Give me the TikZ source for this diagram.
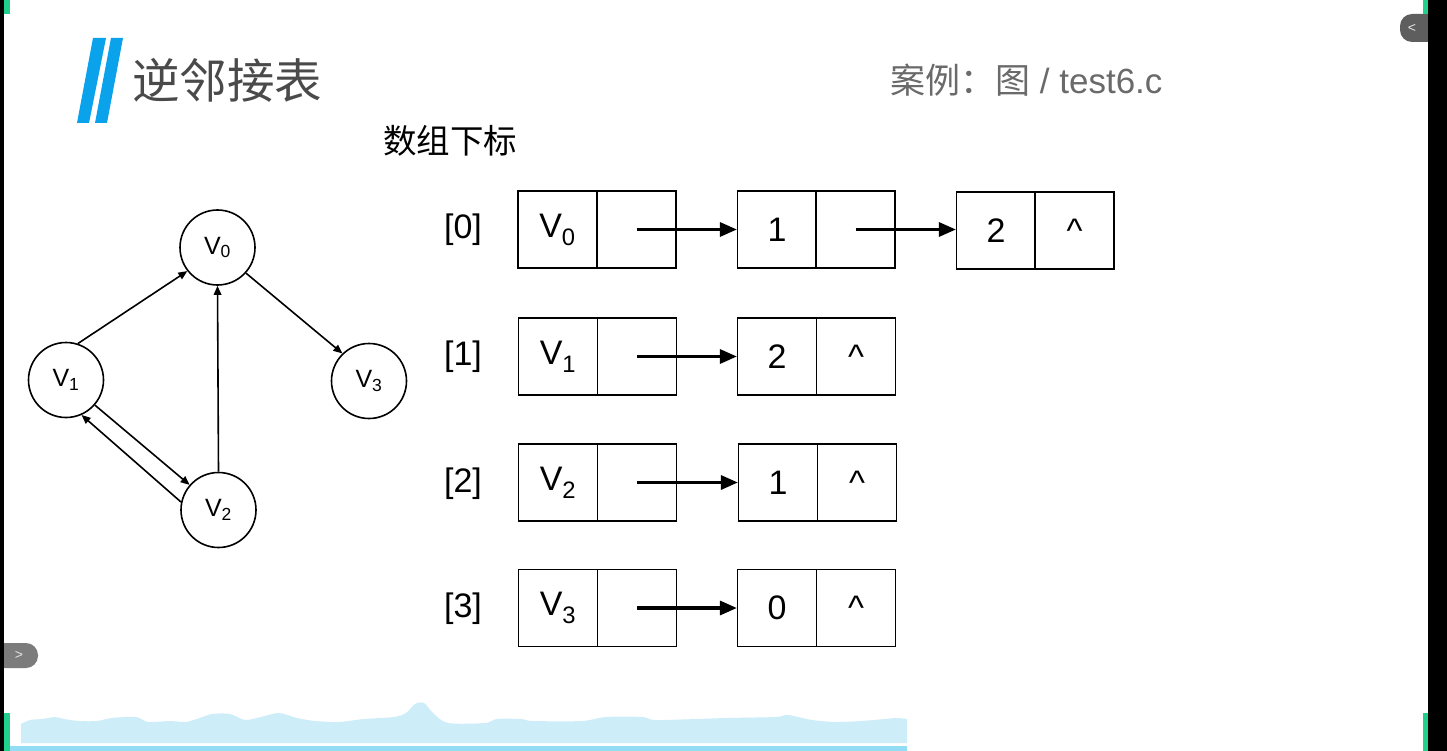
\documentclass[tikz,border=0pt]{standalone}
\usepackage{fontspec}
\setmainfont{Liberation Sans}
\newfontfamily\cjk{Noto Sans CJK SC}
\usetikzlibrary{arrows.meta}
\definecolor{barblue}{HTML}{0AA2EA}
\definecolor{titlegray}{HTML}{4A4A4A}
\definecolor{headgray}{HTML}{6A6A6A}
\definecolor{markgreen}{HTML}{22D08E}
\definecolor{wavefill}{HTML}{CDEDF9}
\definecolor{wavebar}{HTML}{92DDF3}
\definecolor{tabgray}{HTML}{5E5E5E}
\definecolor{tabgrayl}{HTML}{7C7C7C}
\tikzset{
  vnode/.style={circle, draw, line width=1.6pt, minimum size=75pt, inner sep=0pt, font=\fontsize{25}{25}\selectfont},
  garrow/.style={line width=1.6pt, -{Triangle[length=9pt,width=7.5pt]}},
  cellbox/.style={rectangle, draw, line width=1.2pt, minimum width=79pt, minimum height=77pt, inner sep=0pt, font=\fontsize{34}{34}\selectfont},
  idxlabel/.style={inner sep=0pt, font=\fontsize{34}{34}\selectfont},
  listarrow/.style={line width=3.2pt, -{Triangle[length=17pt,width=14pt]}},
}
\newcommand{\caretsym}{\vphantom{1}\textasciicircum}
\begin{document}
\begin{tikzpicture}[x=1pt,y=-1pt]
\useasboundingbox (0,0) rectangle (1447,751);
\fill[white] (0,0) rectangle (1447,751);
% bottom waveform
\fill[wavefill] plot[smooth, tension=0.5] coordinates {(21,724) (30,720) (42,719) (55,717) (64,719) (79,721) (97,721) (112,718) (136,717) (148,722) (170,721) (185,722) (197,719) (212,714) (230,714) (245,720) (261,717) (279,713) (297,718) (315,721) (339,722) (364,719) (394,717) (406,713) (415,704) (424,703) (433,713) (448,723) (485,723) (497,719) (521,719) (533,721) (582,721) (606,717) (642,717) (655,720) (697,719) (727,718) (776,717) (788,715) (812,720) (836,722) (861,721) (885,719) (897,718) (907,719)} -- (907,743) -- (21,743) -- cycle;
\fill[wavebar] (4,746) rectangle (907,751);
% tabs
\fill[tabgray, rounded corners=12pt] (1400,14) rectangle (1445,42);
\node[text=white!80!gray, font=\fontsize{14}{14}\selectfont, inner sep=0pt] (tabr) at (1412,28) {<};
\fill[tabgrayl, rounded corners=12pt] (-20,643) rectangle (38,668);
\node[text=white!80!gray, font=\fontsize{14}{14}\selectfont, inner sep=0pt] (tabl) at (19,655) {>};
% black side strips
\fill[black] (0,0) rectangle (4,751);
\fill[black] (1428,0) rectangle (1447,751);
% green marks
\fill[markgreen] (4,0) rectangle (10,14);
\fill[markgreen] (1423,0) rectangle (1428,14);
\fill[markgreen] (4,713) rectangle (10,751);
\fill[markgreen] (1423,713) rectangle (1428,751);
% title
\fill[barblue] (93,38) -- (106,38) -- (89,123) -- (77,123) -- cycle;
\fill[barblue] (111,38) -- (123,38) -- (107,123) -- (95,123) -- cycle;
\node[anchor=west, inner sep=0pt, text=titlegray, font=\cjk\fontsize{47.5}{47.5}\selectfont] (title) at (132,80) {逆邻接表};
\node[anchor=west, inner sep=0pt, text=headgray, font=\fontsize{35}{35}\selectfont] (case) at (890,80) {{\cjk 案例：图} / test6.c};
\node[anchor=west, inner sep=0pt, font=\cjk\fontsize{33.5}{33.5}\selectfont] (subs) at (383,141) {数组下标};
% graph
\node[vnode] (v0) at (217.5,247.5) {V\textsubscript{0}};
\node[vnode] (v1) at (66,380) {V\textsubscript{1}};
\node[vnode] (v3) at (369,381) {V\textsubscript{3}};
\node[vnode] (v2) at (218.5,510) {V\textsubscript{2}};
\draw[garrow] (v1.72) -- (v0.218);
\draw[garrow] (v2.north) -- (v0.south);
\draw[garrow] (v0.-42) -- (v3.134);
\draw[garrow] (v1.-41) -- (v2.139);
\draw[garrow] (v2.168) -- (v1.-66);
% adjacency lists
% row 0
\node[idxlabel] (i0) at (463,230) {[0]};
\node[cellbox] (d0a) at (557.5,229.5) {V\textsubscript{0}};
\node[cellbox] (p0a) at (636.5,229.5) {};
\node[cellbox] (d0b) at (777,229.5) {1};
\node[cellbox] (p0b) at (855.5,229.5) {};
\node[cellbox] (d0c) at (996,230.5) {2};
\node[cellbox] (p0c) at (1074.5,230.5) {\caretsym};
\draw[listarrow] (p0a.center) -- (d0b.west);
\draw[listarrow] (p0b.center) -- (p0b.center -| d0c.west);
% row 1
\node[idxlabel] (i1) at (463,357) {[1]};
\node[cellbox] (d1a) at (558,356.5) {V\textsubscript{1}};
\node[cellbox] (p1a) at (637,356.5) {};
\node[cellbox] (d1b) at (777,356.5) {2};
\node[cellbox] (p1b) at (856,356.5) {\caretsym};
\draw[listarrow] (p1a.center) -- (d1b.west);
% row 2
\node[idxlabel] (i2) at (463,484) {[2]};
\node[cellbox] (d2a) at (558,482.5) {V\textsubscript{2}};
\node[cellbox] (p2a) at (637,482.5) {};
\node[cellbox] (d2b) at (778,482.5) {1};
\node[cellbox] (p2b) at (857,482.5) {\caretsym};
\draw[listarrow] (p2a.center) -- (d2b.west);
% row 3
\node[idxlabel] (i3) at (463,609) {[3]};
\node[cellbox] (d3a) at (558,608) {V\textsubscript{3}};
\node[cellbox] (p3a) at (637,608) {};
\node[cellbox] (d3b) at (777,608) {0};
\node[cellbox] (p3b) at (856,608) {\caretsym};
\draw[listarrow] (p3a.center) -- (d3b.west);
\end{tikzpicture}
\end{document}
